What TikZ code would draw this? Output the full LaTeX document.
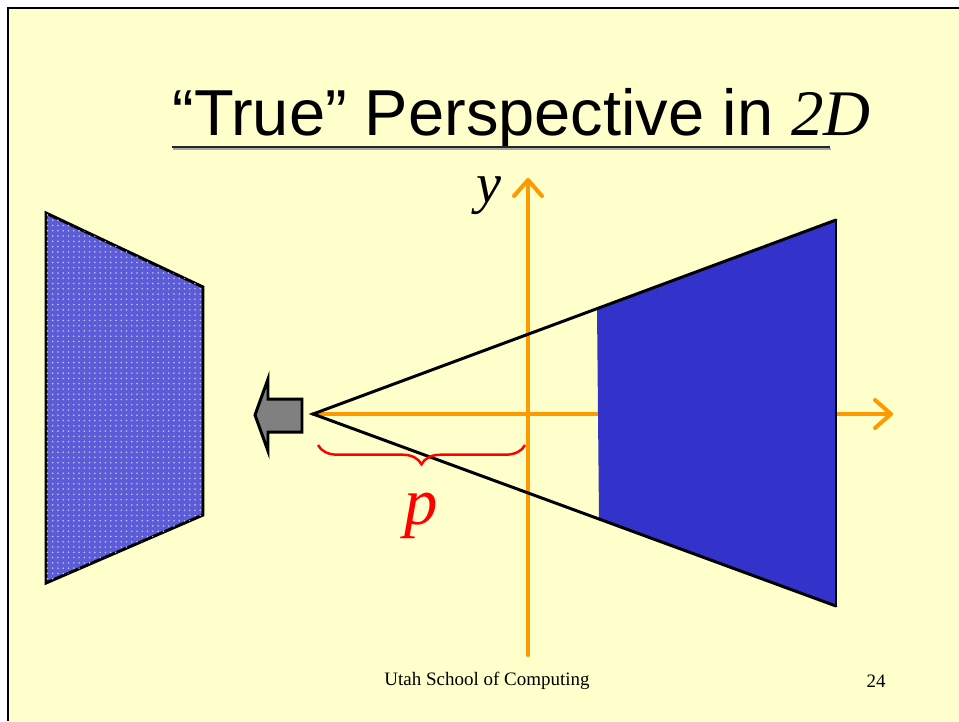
\documentclass[tikz,border=0pt]{standalone}
\usepackage{fontspec}
\setmainfont{Liberation Serif}
\newfontfamily\titlefont{Liberation Sans}
\usetikzlibrary{arrows.meta,decorations.pathreplacing,patterns}

\definecolor{slidebg}{HTML}{FFFFCC}
\definecolor{objblue}{HTML}{3333CC}
\definecolor{axisorange}{HTML}{FF9900}

\begin{document}
\begin{tikzpicture}[x=0.02cm,y=-0.02cm,
    axis/.style={draw=axisorange,line width=2.3pt,line cap=round,
        -{Straight Barb[length=3.2mm,width=5.6mm,round]}},
    ray/.style={draw=black,line width=1.7pt},
    outline/.style={draw=black,line width=1.7pt,line join=miter},
    brace/.style={draw=red,line width=1.4pt,decorate,
        decoration={brace,amplitude=11pt}}]
    \useasboundingbox (0,0) rectangle (959,721);
    \fill[white] (0,0) rectangle (959,721);
    \fill[slidebg] (8,8) rectangle (959,721);
    \draw[line width=1.7pt] (8,721) -- (8,8) -- (959,8);

    % title
    \node[anchor=base west,inner sep=0pt] (title) at (172,135)
        {\titlefont\fontsize{37}{41}\selectfont “True” Perspective in {\rmfamily\itshape 2D}};
    \draw[line width=1.6pt,black!35] (173,149) -- (831,149);
    \draw[line width=1.6pt,black!85] (172,147) -- (830,147);

    % points
    \coordinate (eye) at (313,414);
    \coordinate (far top) at (836,220);
    \coordinate (far bot) at (836,606);
    \coordinate (near top) at (597,309);
    \coordinate (near bot) at (599,519);
    \coordinate (x end) at (893,414);
    \coordinate (y start) at (528,655);
    \coordinate (y end) at (528,178);

    % image plane on the left
    \path[outline,fill=objblue!80,postaction={pattern=dots,pattern color=white!70!objblue}]
        (46,213) -- (203,287) -- (203,515) -- (46,583) -- cycle;

    % viewing direction
    \filldraw[outline,fill=black!50]
        (255,415) -- (268,379) -- (268,399) -- (302,399) -- (302,432)
        -- (268,432) -- (268,451) -- cycle;

    % axes
    \draw[axis] (eye) -- (x end);
    \draw[axis] (y start) -- (y end);
    \node[font=\fontsize{32}{36}\selectfont\itshape] (ylabel) at (489,196) {y};

    % object
    \fill[objblue] (near top) -- (far top) -- (far bot) -- (near bot) -- cycle;
    \draw[line width=0.8pt] (far top) -- (far bot);
    \draw[ray,line cap=round] (far top) -- (eye) -- (far bot);

    % distance p
    \coordinate (brace left) at (318,445);
    \coordinate (brace right) at (525,445);
    \draw[brace] (brace right) -- (brace left);
    \node[red,font=\fontsize{38}{42}\selectfont\itshape] (plabel) at (421,516) {p};

    % footer
    \node[font=\fontsize{10.8}{13}\selectfont] (footer) at (487,681) {Utah School of Computing};
    \node[font=\fontsize{10.8}{13}\selectfont] (pageno) at (876,681) {24};
\end{tikzpicture}
\end{document}
